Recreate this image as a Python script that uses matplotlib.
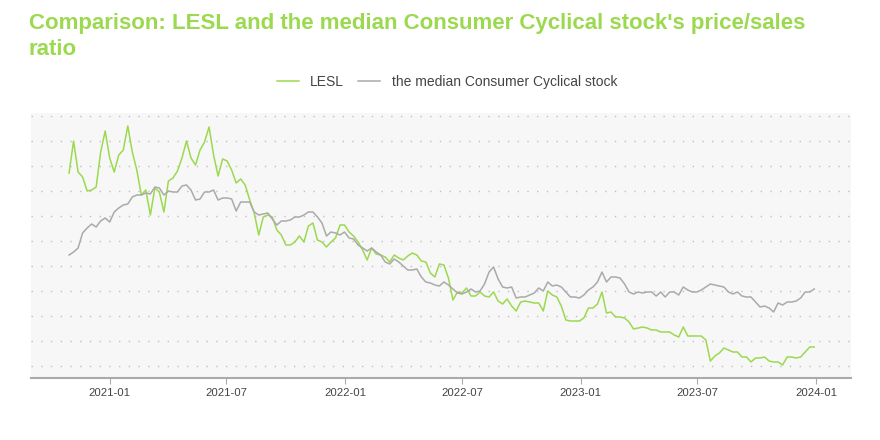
import matplotlib
import numpy as np
import pandas as pd

matplotlib.use("Agg")
import matplotlib.pyplot as plt  # noqa: E402
import matplotlib.dates as mdates  # noqa: E402

# weekly closes (Fridays), price/sales ratio
dates = pd.date_range("2020-10-30", "2023-12-29", freq="7D")

lesl = [
    4.36, 5.00, 4.38, 4.28, 4.00, 4.02, 4.08, 4.78, 5.20, 4.66,
    4.38, 4.72, 4.82, 5.30, 4.78, 4.42, 3.92, 4.02, 3.52, 4.06,
    3.98, 3.58, 4.20, 4.26, 4.40, 4.66, 5.00, 4.66, 4.52, 4.82,
    4.98, 5.28, 4.72, 4.30, 4.64, 4.60, 4.42, 4.16, 4.24, 4.12,
    3.82, 3.56, 3.12, 3.48, 3.52, 3.48, 3.22, 3.12, 2.92, 2.92,
    2.98, 3.10, 2.98, 3.30, 3.36, 3.02, 2.98, 2.88, 2.98, 3.06,
    3.32, 3.32, 3.18, 3.10, 2.98, 2.82, 2.62, 2.86, 2.74, 2.72,
    2.68, 2.58, 2.72, 2.66, 2.62, 2.70, 2.76, 2.72, 2.60, 2.58,
    2.36, 2.28, 2.54, 2.52, 2.26, 1.82, 1.98, 1.96, 2.06, 1.90,
    1.90, 1.98, 1.90, 1.88, 1.98, 1.80, 1.74, 1.84, 1.70, 1.60,
    1.78, 1.80, 1.78, 1.76, 1.76, 1.60, 2.00, 1.92, 1.88, 1.70,
    1.42, 1.40, 1.40, 1.40, 1.46, 1.66, 1.66, 1.74, 1.98, 1.56,
    1.58, 1.48, 1.48, 1.46, 1.38, 1.24, 1.26, 1.28, 1.26, 1.22,
    1.22, 1.18, 1.18, 1.18, 1.12, 1.08, 1.28, 1.10, 1.10, 1.10,
    1.10, 1.02, 0.60, 0.70, 0.76, 0.86, 0.82, 0.78, 0.78, 0.68,
    0.68, 0.58, 0.66, 0.66, 0.68, 0.60, 0.58, 0.58, 0.52, 0.68,
    0.68, 0.66, 0.68, 0.78, 0.88, 0.88,
]

median_cc = [
    2.72, 2.78, 2.86, 3.16, 3.26, 3.34, 3.28, 3.40, 3.46, 3.38,
    3.58, 3.66, 3.72, 3.74, 3.88, 3.92, 3.92, 3.96, 3.94, 4.08,
    4.06, 3.92, 4.00, 3.98, 3.98, 4.10, 4.12, 4.02, 3.82, 3.84,
    3.98, 3.98, 4.02, 3.82, 3.86, 3.86, 3.84, 3.60, 3.78, 3.78,
    3.78, 3.58, 3.52, 3.54, 3.56, 3.44, 3.32, 3.40, 3.40, 3.42,
    3.48, 3.48, 3.52, 3.58, 3.58, 3.48, 3.36, 3.10, 3.18, 3.16,
    3.12, 3.18, 3.06, 3.04, 2.92, 2.86, 2.80, 2.86, 2.78, 2.72,
    2.58, 2.54, 2.64, 2.58, 2.50, 2.42, 2.42, 2.44, 2.28, 2.18,
    2.16, 2.12, 2.10, 2.18, 2.12, 2.04, 1.96, 1.94, 1.98, 2.04,
    1.98, 2.00, 2.14, 2.38, 2.48, 2.24, 2.08, 2.06, 2.08, 1.86,
    1.88, 1.88, 1.92, 1.96, 2.06, 2.00, 2.18, 2.10, 2.12, 2.08,
    1.98, 1.88, 1.88, 1.86, 1.92, 2.02, 2.08, 2.18, 2.38, 2.18,
    2.28, 2.28, 2.26, 2.14, 1.98, 1.94, 1.98, 1.96, 1.98, 1.98,
    1.90, 1.98, 1.88, 1.98, 1.98, 1.92, 2.08, 2.02, 1.98, 1.98,
    2.02, 2.08, 2.14, 2.12, 2.10, 2.08, 1.98, 1.94, 1.98, 1.90,
    1.88, 1.88, 1.78, 1.68, 1.70, 1.66, 1.58, 1.76, 1.72, 1.78,
    1.78, 1.80, 1.86, 1.98, 1.98, 2.04,
]

GREEN = "#9bd94f"
GREY = "#aaaaaa"
TXT = "#444444"

plt.rcParams["font.family"] = ["Liberation Sans", "DejaVu Sans"]

fig = plt.figure(figsize=(8.8, 4.4), dpi=100)
ax = fig.add_axes([31 / 880, 62 / 440, 820 / 880, 265 / 440])
ax.set_facecolor("#f7f7f7")

ax.plot(dates, lesl, color=GREEN, lw=1.1, label="LESL")
ax.plot(dates, median_cc, color=GREY, lw=1.1, label="the median Consumer Cyclical stock")

ax.set_xlim(pd.Timestamp("2020-09-01"), pd.Timestamp("2024-02-24"))
ax.set_ylim(0.26, 5.56)
ax.set_yticks(np.arange(0.5, 5.51, 0.5))
ax.yaxis.grid(True, color="#c0c0c0", lw=1.0, ls=(0, (1, 6)))
ax.tick_params(axis="y", length=0, labelleft=False)

ax.xaxis.set_major_locator(mdates.MonthLocator(bymonth=[1, 7]))
ax.xaxis.set_major_formatter(mdates.DateFormatter("%Y-%m"))
ax.tick_params(axis="x", length=4, color="#aaaaaa", labelsize=8.2, labelcolor=TXT, pad=3)

for s in ("top", "right", "left"):
    ax.spines[s].set_visible(False)
ax.spines["bottom"].set_color("#aaaaaa")
ax.spines["bottom"].set_linewidth(1.5)

fig.text(29 / 880, 1 - 13 / 440,
         "Comparison: LESL and the median Consumer Cyclical stock's price/sales\nratio",
         color=GREEN, fontsize=16, fontweight="bold", va="top", linespacing=1.3)

fig.legend(loc="center", bbox_to_anchor=(447 / 880, 1 - 82 / 440), ncol=2, frameon=False,
           fontsize=10, labelcolor=TXT, handlelength=1.6, handletextpad=0.8, columnspacing=1.0)

fig.savefig("out.png", dpi=100)
